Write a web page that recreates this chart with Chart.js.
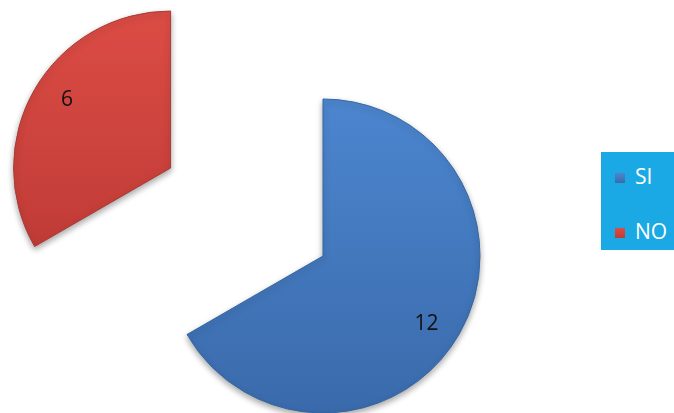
<!DOCTYPE html>
<html>
<head>
<meta charset="utf-8">
<script src="https://cdn.jsdelivr.net/npm/chart.js@4.4.0/dist/chart.umd.min.js"></script>
<style>
  body { margin: 0; background: #fff; }
  #wrap { position: relative; width: 674px; height: 413px; }
  #legend {
    position: absolute; left: 601px; top: 152px; width: 73px; height: 98px;
    background: #1aa9e4; font-family: "Open Sans", "Noto Sans", sans-serif;
    font-size: 21px; color: #fff;
  }
  #legend .item { position: absolute; left: 14px; height: 24px; line-height: 24px; white-space: nowrap; }
  #legend .box { display: inline-block; width: 10px; height: 10px; margin-right: 10px; vertical-align: 1px; }
</style>
</head>
<body>
<div id="wrap">
  <canvas id="myChart" width="674" height="413"></canvas>
  <div id="legend"></div>
</div>
<script>
// Dữ liệu biểu đồ
const labels = ['SI', 'NO'];
const values = [12, 6];
const explode = [0, 176];
const topColors = ['#4c86cf', '#dc4c45'];
const bottomColors = ['#3a6aab', '#c03b36'];

const canvas = document.getElementById('myChart');
const ctx = canvas.getContext('2d');

// Gradient dọc cho từng lát
function sliceGradient(context) {
    const i = context.dataIndex;
    const g = ctx.createLinearGradient(0, i === 0 ? 100 : 10, 0, i === 0 ? 413 : 250);
    g.addColorStop(0, topColors[i]);
    g.addColorStop(1, bottomColors[i]);
    return g;
}

// Tách lát ra khỏi tâm theo góc giữa
const explodePlugin = {
    id: 'explode',
    afterDatasetsUpdate(chart) {
        chart.getDatasetMeta(0).data.forEach((arc, i) => {
            const d = explode[i];
            if (!d) return;
            const mid = (arc.startAngle + arc.endAngle) / 2;
            arc.x += Math.cos(mid) * d;
            arc.y += Math.sin(mid) * d;
        });
    }
};

// Bóng đổ dưới các lát
const shadowPlugin = {
    id: 'sliceShadow',
    beforeDatasetsDraw(chart) {
        const c = chart.ctx;
        c.save();
        c.shadowColor = 'rgba(0,0,0,0.35)';
        c.shadowBlur = 6;
        c.shadowOffsetY = 3;
    },
    afterDatasetsDraw(chart) {
        chart.ctx.restore();
    }
};

// Nhãn giá trị trên từng lát
const valueLabels = {
    id: 'valueLabels',
    afterDatasetsDraw(chart) {
        const c = chart.ctx;
        const meta = chart.getDatasetMeta(0);
        c.save();
        c.font = '21px "Open Sans", "Noto Sans", sans-serif';
        c.fillStyle = '#111';
        c.textAlign = 'center';
        c.textBaseline = 'middle';
        meta.data.forEach((arc, i) => {
            const mid = (arc.startAngle + arc.endAngle) / 2 + 0.06;
            const r = arc.outerRadius * 0.79;
            c.fillText(String(values[i]), arc.x + Math.cos(mid) * r, arc.y + Math.sin(mid) * r);
        });
        c.restore();
    }
};

new Chart(ctx, {
    type: 'pie',
    data: {
        labels: labels,
        datasets: [{
            data: values,
            backgroundColor: sliceGradient,
            borderColor: ['#3566a3', '#a93a36'],
            borderWidth: 1,
            clip: false
        }]
    },
    options: {
        responsive: false,
        animation: false,
        radius: 157,
        layout: { padding: { left: 0, right: 28, top: 99, bottom: 0 } },
        plugins: {
            legend: { display: false },
            tooltip: { enabled: false }
        }
    },
    plugins: [explodePlugin, shadowPlugin, valueLabels]
});

// Chú thích bên phải
const legendEl = document.getElementById('legend');
labels.forEach((name, i) => {
    const item = document.createElement('div');
    item.className = 'item';
    item.style.top = (i === 0 ? 12 : 67) + 'px';
    item.innerHTML = `<span class="box" style="background:linear-gradient(${topColors[i]},${bottomColors[i]})"></span>${name}`;
    legendEl.appendChild(item);
});
</script>
</body>
</html>
